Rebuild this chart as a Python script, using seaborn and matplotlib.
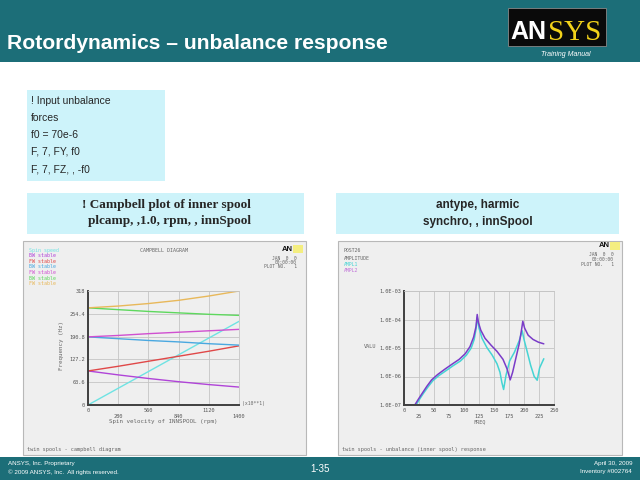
import pandas as pd
import matplotlib
matplotlib.use("Agg")
import matplotlib.pyplot as plt
import matplotlib.patches as patches
import seaborn as sns

sns.set_style("whitegrid")
plt.rcParams['font.family'] = ['Liberation Sans', 'DejaVu Sans']

# ---- campbell diagram data (speed in rpm x10**1, freq in Hz)
speed = [0, 280, 560, 840, 1120, 1400]
spin_line = [0.0, 46.7, 93.3, 140.0, 186.7, 233.3]
bw1 = [95, 84, 74, 65, 57, 50]
fw1 = [95, 108, 122, 136, 150, 165]
bw2 = [190, 185, 180, 176, 171, 167]
fw2 = [190, 194, 199, 203, 207, 211]
bw3 = [271, 266, 261, 257, 253, 250]
fw3 = [271, 276, 283, 292, 304, 318]
campbell_labels = ['Spin speed', 'BW stable', 'FW stable', 'BW stable',
                   'FW stable', 'BW stable', 'FW stable']
campbell_colors = ['#6fe3e3', '#b044d8', '#e04848', '#4aa8e0',
                   '#d050d0', '#5ed85e', '#e8b85a']
campbell_yticks = [0, 63.6, 127.2, 190.8, 254.4, 318]
campbell_ylabels = ['0', '63.6', '127.2', '190.8', '254.4', '318']

# ---- harmonic response data (freq in Hz, amplitude)
freq2 = [0, 18, 24, 30, 38, 46, 56, 68, 80, 92, 102, 110, 116, 120, 122,
         124, 128, 135, 145, 155, 165, 172, 177, 181, 186, 192, 196, 198,
         201, 207, 215, 224, 233]
ampl2 = [1.0e-7, 1.0e-7, 1.6e-7, 2.5e-7, 4.5e-7, 7.6e-7, 1.17e-6, 1.8e-6,
         2.7e-6, 4.0e-6, 6.3e-6, 1.12e-5, 2.4e-5, 5.6e-5, 1.5e-4,
         7.9e-5, 4.2e-5, 2.2e-5, 1.26e-5, 7.6e-6, 4.0e-6, 1.8e-6, 7.6e-7,
         1.4e-6, 4.0e-6, 1.4e-5, 4.5e-5, 8.7e-5,
         5.0e-5, 2.8e-5, 2.0e-5, 1.6e-5, 1.4e-5]
freq1 = [0, 20, 26, 32, 40, 48, 58, 70, 82, 94, 104, 112, 117, 120, 122,
         125, 130, 138, 147, 155, 160, 163, 166, 170, 176, 184, 192, 197,
         200, 205, 211, 217, 222, 226, 233]
ampl1 = [1.0e-7, 1.0e-7, 1.6e-7, 2.5e-7, 4.3e-7, 7.1e-7, 1.07e-6, 1.6e-6,
         2.4e-6, 3.5e-6, 5.6e-6, 1.0e-5, 2.0e-5, 4.5e-5, 1.2e-4,
         5.0e-5, 2.2e-5, 1.05e-5, 5.6e-6, 2.8e-6, 1.4e-6, 6.3e-7, 3.5e-7,
         1.1e-6, 3.5e-6, 7.1e-6, 1.8e-5, 4.0e-5,
         2.0e-5, 7.9e-6, 2.5e-6, 1.0e-6, 7.4e-7, 2.0e-6, 4.2e-6]
resp_labels = ['AMPL1', 'AMPL2']
resp_colors = ['#45d4d4', '#7a3cc8']
resp_xticks = [0, 25, 50, 75, 100, 125, 150, 175, 200, 225, 250]
resp_yticks = [1e-7, 1e-6, 1e-5, 1e-4, 1e-3]
resp_ylabels = ['1.0E-07', '1.0E-06', '1.0E-05', '1.0E-04', '1.0E-03']

W, H = 640.0, 480.0
teal = '#1c6e78'
box_bg = '#cdf3fa'
panel_bg = '#efefef'
mono = 'DejaVu Sans Mono'

fig = plt.figure(figsize=(6.4, 4.8), dpi=100)
fig.patch.set_facecolor('white')


def rect(x0, y0, x1, y1, fc, ec='none', lw=0.0, z=1):
    fig.add_artist(patches.Rectangle((x0 / W, 1 - y1 / H), (x1 - x0) / W, (y1 - y0) / H,
                                     transform=fig.transFigure, facecolor=fc,
                                     edgecolor=ec, linewidth=lw, zorder=z))


def txt(x, y, s, **kw):
    fig.text(x / W, 1 - y / H, s, **kw)


def axbox(x0, y0, x1, y1):
    return [x0 / W, 1 - y1 / H, (x1 - x0) / W, (y1 - y0) / H]


# title bar + logo
rect(0, 0, 640, 62, teal)
txt(7, 49, 'Rotordynamics \u2013 unbalance response', color='white',
    fontsize=15.2, fontweight='bold', va='baseline', zorder=3)
rect(508, 8, 606, 46, '#0a0a0a', ec='#888888', lw=0.6, z=2)
txt(510, 39, 'AN', color='white', fontsize=18, fontweight='bold',
    va='baseline', zorder=3)
txt(548, 40, 'SYS', color='#f2d21a', fontsize=21, family='Liberation Serif',
    va='baseline', zorder=3)
txt(566, 55, 'Training Manual', color='white', fontsize=5, style='italic',
    ha='center', va='center', zorder=3)

# code boxes
rect(27, 90, 165, 181, box_bg)
for i, line in enumerate(['! Input unbalance', 'forces', 'f0 = 70e-6',
                          'F, 7, FY, f0', 'F, 7, FZ, , -f0']):
    txt(31, 101 + i * 17, line, fontsize=7.5, va='center', zorder=3)

rect(27, 193, 304, 234, box_bg)
txt(166, 205, '! Campbell plot of inner spool', fontsize=9.5,
    family='Liberation Serif', fontweight='bold', ha='center', va='center', zorder=3)
txt(170, 221, 'plcamp, ,1.0, rpm, , innSpool', fontsize=9.5,
    family='Liberation Serif', fontweight='bold', ha='center', va='center', zorder=3)

rect(336, 193, 619, 234, box_bg)
txt(478, 205, 'antype, harmic', fontsize=8.5, fontweight='bold',
    ha='center', va='center', zorder=3)
txt(478, 222, 'synchro, , innSpool', fontsize=8.5, fontweight='bold',
    ha='center', va='center', zorder=3)

# chart panels
rect(23, 241, 306, 455, panel_bg, ec='#b8b8b8', lw=0.8)
rect(338, 241, 622, 455, panel_bg, ec='#b8b8b8', lw=0.8)

# footer
rect(0, 457, 640, 480, teal)
txt(8, 464, 'ANSYS, Inc. Proprietary', color='white', fontsize=4.5, va='center', zorder=3)
txt(8, 472, '\u00a9 2009 ANSYS, Inc.  All rights reserved.', color='white',
    fontsize=4.5, va='center', zorder=3)
txt(320, 469, '1-35', color='white', fontsize=7, ha='center', va='center', zorder=3)
txt(632, 464, 'April 30, 2009', color='white', fontsize=4.5, ha='right', va='center', zorder=3)
txt(632, 472, 'Inventory #002764', color='white', fontsize=4.5, ha='right', va='center', zorder=3)


def style_axes(ax):
    ax.set_facecolor(panel_bg)
    ax.set_zorder(4)
    ax.grid(True, color='#c4c4c4', linewidth=0.6)
    for side in ['top', 'right']:
        ax.spines[side].set_color('#c4c4c4')
        ax.spines[side].set_linewidth(0.6)
    for side in ['left', 'bottom']:
        ax.spines[side].set_color('#404040')
        ax.spines[side].set_linewidth(1.4)
    ax.tick_params(length=0, labelsize=3.8, labelcolor='#555555', pad=2)
    for lab in ax.get_xticklabels() + ax.get_yticklabels():
        lab.set_family(mono)
    ax.set_xlabel('')
    ax.set_ylabel('')


def corner(xr, ylogo):
    txt(xr - 10, ylogo, 'AN', fontsize=5.5, fontweight='bold', ha='right',
        va='center', color='#111111', zorder=5)
    rect(xr - 10, ylogo - 4, xr, ylogo + 4, '#f4ee80', z=5)
    for i, s in enumerate(['JAN  0  0', '00:00:00', 'PLOT NO.   1']):
        txt(xr - 6, ylogo + 9 + i * 4.5, s, fontsize=3.3, family=mono,
            color='#666666', ha='right', va='center', zorder=5)


# ---- Campbell diagram
campbell = pd.DataFrame({
    'speed': speed * 7,
    'freq': spin_line + bw1 + fw1 + bw2 + fw2 + bw3 + fw3,
    'mode': sum([[k] * len(speed) for k in range(7)], []),
})
ax1 = fig.add_axes(axbox(88, 291, 239, 405))
sns.lineplot(data=campbell, x='speed', y='freq', hue='mode',
             palette=campbell_colors, estimator=None, legend=False,
             linewidth=1.0, ax=ax1)
ax1.set_xlim(0, 1400)
ax1.set_ylim(0, 318)
ax1.set_xticks(speed)
ax1.set_xticklabels([str(v) if i % 2 == 0 else '\n' + str(v)
                     for i, v in enumerate(speed)])
ax1.set_yticks(campbell_yticks)
ax1.set_yticklabels(campbell_ylabels)
style_axes(ax1)

for i, (lab, col) in enumerate(zip(campbell_labels, campbell_colors)):
    txt(29, 250 + i * 5.6, lab, fontsize=3.6, family=mono, color=col,
        va='center', zorder=5)
txt(164, 251, 'CAMPBELL DIAGRAM', fontsize=3.6, family=mono, color='#666666',
    ha='center', va='center', zorder=5)
corner(303, 249)
txt(62, 345, 'Frequency (Hz)', fontsize=4.2, family=mono, color='#666666',
    rotation=90, ha='center', va='center', zorder=5)
txt(163, 422, 'Spin velocity of INNSPOOL (rpm)', fontsize=4.2, family=mono,
    color='#666666', ha='center', va='center', zorder=5)
txt(242, 404, '(x10**1)', fontsize=3.4, family=mono, color='#666666',
    va='center', zorder=5)
txt(27, 449, 'twin spools - campbell diagram', fontsize=3.8, family=mono,
    color='#666666', va='center', zorder=5)

# ---- harmonic response
resp = pd.DataFrame({
    'freq': freq1 + freq2,
    'ampl': ampl1 + ampl2,
    'curve': [resp_labels[0]] * len(freq1) + [resp_labels[1]] * len(freq2),
})
ax2 = fig.add_axes(axbox(404, 291, 554, 405))
sns.lineplot(data=resp, x='freq', y='ampl', hue='curve',
             palette=dict(zip(resp_labels, resp_colors)), estimator=None,
             sort=False, legend=False, linewidth=1.1, ax=ax2)
ax2.set_yscale('log')
ax2.set_xlim(0, 250)
ax2.set_ylim(1e-7, 1e-3)
ax2.set_xticks(resp_xticks)
ax2.set_xticklabels([str(v) if i % 2 == 0 else '\n' + str(v)
                     for i, v in enumerate(resp_xticks)])
ax2.set_yticks(resp_yticks)
ax2.set_yticklabels(resp_ylabels)
ax2.minorticks_off()
style_axes(ax2)

txt(344, 250, 'POST26', fontsize=3.5, family=mono, color='#666666', va='center', zorder=5)
txt(344, 258, 'AMPLITUDE', fontsize=3.5, family=mono, color='#666666', va='center', zorder=5)
txt(344, 264, resp_labels[0], fontsize=3.5, family=mono, color=resp_colors[0],
    va='center', zorder=5)
txt(344, 270, resp_labels[1], fontsize=3.5, family=mono, color='#c070d8',
    va='center', zorder=5)
corner(620, 246)
txt(370, 346, 'VALU', fontsize=3.8, family=mono, color='#666666',
    ha='center', va='center', zorder=5)
txt(480, 422, 'FREQ', fontsize=3.8, family=mono, color='#666666',
    ha='center', va='center', zorder=5)
txt(342, 449, 'twin spools - unbalance (inner spool) response', fontsize=3.8,
    family=mono, color='#666666', va='center', zorder=5)

fig.savefig('out.png', dpi=100)
